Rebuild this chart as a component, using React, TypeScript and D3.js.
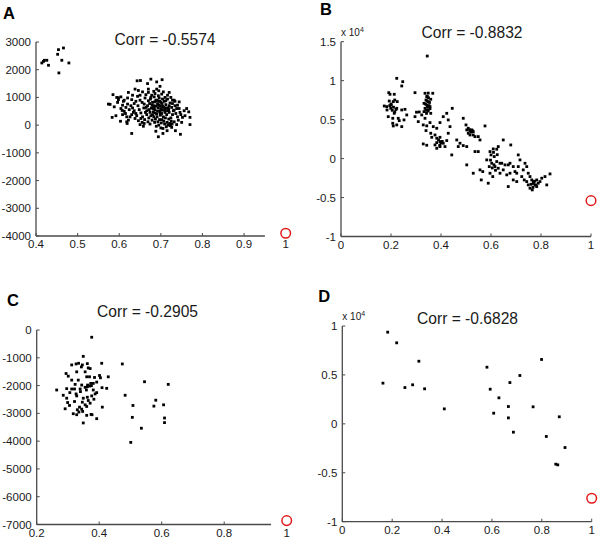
import React from "react";
import * as d3 from "d3";

// ---------- DATA ----------
const titles = ["Corr = -0.5574", "Corr = -0.8832", "Corr = -0.2905", "Corr = -0.6828"];
const panelLabels = ["A", "B", "C", "D"];

const ticksAX = [0.4, 0.5, 0.6, 0.7, 0.8, 0.9, 1];
const ticksAY = [-4000, -3000, -2000, -1000, 0, 1000, 2000, 3000];
const ticksBX = [0, 0.2, 0.4, 0.6, 0.8, 1];
const ticksBY = [-1, -0.5, 0, 0.5, 1, 1.5];
const ticksCX = [0.2, 0.4, 0.6, 0.8, 1];
const ticksCY = [-7000, -6000, -5000, -4000, -3000, -2000, -1000, 0];
const ticksDX = [0, 0.2, 0.4, 0.6, 0.8, 1];
const ticksDY = [-1, -0.5, 0, 0.5, 1];

// reference (red circle) points
const refA: [number, number] = [1, -3900];
const refB: [number, number] = [1, -0.54];
const refC: [number, number] = [1, -6860];
const refD: [number, number] = [1, -0.76];

const pointsA: [number, number][] = [
  [0.414, 2244], [0.42, 2340], [0.426, 2340], [0.43, 2160], [0.454, 2724], [0.466, 2784], [0.452, 2556],
  [0.462, 2340], [0.455, 1884], [0.479, 2244], [0.418, 2300],
  [0.643, 1600], [0.651, 1610], [0.668, 1500], [0.676, 1660], [0.703, 1640], [0.69, 1560], [0.698, 1400],
  [0.578, 750], [0.585, 1100], [0.594, 1000], [0.598, 990], [0.622, 1180], [0.638, 1300], [0.646, 1250],
  [0.67, 1300], [0.683, 1220], [0.695, 1240], [0.72, 1180], [0.724, 1000],
  [0.574, 760], [0.588, 660], [0.598, 920], [0.61, 860], [0.63, 920],
  [0.583, 280], [0.592, 340], [0.607, 530], [0.615, 420], [0.603, 140], [0.618, 120], [0.619, 60],
  [0.64, 420], [0.636, 520], [0.762, 600], [0.767, 480], [0.77, 280], [0.77, 20], [0.752, 280], [0.75, 100],
  [0.63, -300], [0.688, -220], [0.694, -420], [0.705, -300], [0.715, -200], [0.726, -80], [0.735, -200],
  [0.747, -330], [0.74, 300], [0.732, 540], [0.728, 780], [0.732, 900],
  [0.65, 900], [0.655, 820], [0.66, 760], [0.662, 980], [0.665, 640], [0.668, 700], [0.67, 880], [0.672, 560],
  [0.675, 940], [0.677, 620], [0.68, 820], [0.682, 480], [0.684, 700], [0.686, 560], [0.688, 900], [0.69, 400],
  [0.692, 760], [0.694, 620], [0.696, 980], [0.698, 520], [0.7, 820], [0.702, 420], [0.704, 680], [0.706, 300],
  [0.708, 860], [0.71, 560], [0.712, 740], [0.714, 380], [0.716, 940], [0.718, 620], [0.72, 460], [0.722, 800],
  [0.724, 260], [0.726, 640], [0.728, 380], [0.73, 520], [0.732, 120], [0.734, 700], [0.736, 420], [0.738, 600],
  [0.645, 700], [0.648, 560], [0.652, 440], [0.656, 300], [0.659, 620], [0.661, 200], [0.663, 460], [0.666, 380],
  [0.669, 120], [0.671, 260], [0.674, 40], [0.676, 340], [0.679, 180], [0.681, 600], [0.683, 300], [0.685, 100],
  [0.687, 220], [0.689, -40], [0.691, 300], [0.693, 120], [0.695, 0], [0.697, 200], [0.699, 360], [0.701, 80],
  [0.703, 200], [0.705, -120], [0.707, 140], [0.709, 40], [0.711, 260], [0.713, -60], [0.715, 100], [0.717, 0],
  [0.719, 220], [0.721, 60], [0.723, -20], [0.725, 140], [0.727, 40], [0.7, -100], [0.66, 60], [0.655, 100],
  [0.64, 860], [0.636, 780], [0.632, 620], [0.628, 700], [0.624, 560], [0.62, 760], [0.616, 640], [0.612, 500],
  [0.608, 720], [0.604, 600], [0.642, 340], [0.638, 240], [0.634, 460], [0.63, 380], [0.626, 300], [0.622, 180],
  [0.646, 160], [0.65, 20], [0.652, 240], [0.658, -40], [0.664, 1100], [0.67, 1180], [0.678, 1080], [0.686, 1140],
  [0.694, 1060], [0.702, 1120], [0.71, 1000], [0.716, 1080], [0.706, 1200], [0.69, 1300], [0.676, 1000],
  [0.684, 1020], [0.692, 860], [0.698, 700], [0.704, 940], [0.712, 880], [0.72, 700], [0.728, 900], [0.734, 860],
  [0.74, 720], [0.744, 600], [0.746, 460], [0.742, 180], [0.748, 380], [0.738, 20], [0.756, 520], [0.758, 340],
  [0.744, 840], [0.666, 520], [0.674, 460], [0.68, 380], [0.686, 440], [0.692, 500], [0.698, 440], [0.704, 540],
  [0.71, 460], [0.716, 520], [0.683, 640], [0.689, 680], [0.695, 720], [0.701, 600], [0.707, 640], [0.713, 620],
  [0.719, 560], [0.673, 780], [0.679, 720], [0.685, 840], [0.691, 900], [0.697, 860], [0.703, 780],
  [0.62, 980], [0.612, 900], [0.604, 1020], [0.596, 820], [0.65, 1080], [0.656, 1200], [0.644, 1040],
  [0.632, 1080], [0.618, 300], [0.608, 380],
];

const pointsB: [number, number][] = [
  [0.345, 1.316], [0.223, 1.03], [0.247, 0.987], [0.243, 0.932], [0.191, 0.846], [0.196, 0.825], [0.213, 0.825],
  [0.173, 0.675], [0.183, 0.667], [0.184, 0.624], [0.201, 0.688], [0.209, 0.731], [0.225, 0.731], [0.223, 0.645],
  [0.213, 0.581], [0.189, 0.538], [0.207, 0.517], [0.229, 0.517], [0.243, 0.624], [0.256, 0.632], [0.263, 0.56],
  [0.252, 0.496], [0.233, 0.487], [0.223, 0.432], [0.209, 0.419], [0.243, 0.41], [0.207, 0.453], [0.199, 0.645],
  [0.215, 0.752], [0.193, 0.739], [0.2, 0.7], [0.21, 0.66], [0.205, 0.62], [0.215, 0.6], [0.195, 0.68], [0.22, 0.63],
  [0.296, 0.846], [0.336, 0.838], [0.343, 0.795], [0.34, 0.752], [0.349, 0.731], [0.332, 0.709], [0.343, 0.688],
  [0.356, 0.667], [0.336, 0.645], [0.349, 0.624], [0.332, 0.603], [0.313, 0.598], [0.302, 0.595], [0.359, 0.761],
  [0.367, 0.838], [0.359, 0.581], [0.323, 0.56], [0.296, 0.538], [0.309, 0.474], [0.336, 0.517], [0.356, 0.462],
  [0.329, 0.432], [0.343, 0.42], [0.345, 0.8], [0.35, 0.78], [0.338, 0.7], [0.352, 0.68], [0.346, 0.66],
  [0.354, 0.72], [0.34, 0.62], [0.348, 0.61], [0.356, 0.64], [0.344, 0.74], [0.349, 0.84], [0.342, 0.58],
  [0.369, 0.41], [0.383, 0.389], [0.396, 0.462], [0.34, 0.359], [0.359, 0.325], [0.376, 0.303], [0.363, 0.273],
  [0.383, 0.261], [0.396, 0.273], [0.409, 0.538], [0.423, 0.581], [0.445, 0.645], [0.429, 0.496],
  [0.329, 0.188], [0.343, 0.171], [0.376, 0.175], [0.383, 0.205], [0.396, 0.218], [0.409, 0.197], [0.416, 0.154],
  [0.383, 0.132], [0.396, 0.154], [0.423, 0.231], [0.429, 0.325], [0.436, 0.41], [0.4, 0.2], [0.395, 0.17],
  [0.405, 0.22], [0.39, 0.24], [0.443, 0.047], [0.463, 0.239], [0.476, 0.197], [0.469, 0.154], [0.489, 0.167],
  [0.489, 0.517], [0.5, 0.432], [0.503, 0.368], [0.509, 0.389], [0.516, 0.359], [0.523, 0.368], [0.529, 0.346],
  [0.509, 0.325], [0.516, 0.303], [0.529, 0.303], [0.536, 0.282], [0.549, 0.282], [0.556, 0.239], [0.576, 0.419],
  [0.515, 0.37], [0.525, 0.36], [0.52, 0.34], [0.503, 0.154], [0.503, -0.081], [0.529, -0.188], [0.536, 0.09],
  [0.549, 0.09], [0.556, -0.145], [0.567, -0.167], [0.561, -0.274], [0.589, -0.316], [0.596, -0.188],
  [0.593, -0.103], [0.583, -0.017], [0.596, 0.09], [0.609, 0.124], [0.623, 0.12], [0.629, 0.154], [0.6, 0.047],
  [0.613, 0.026], [0.603, -0.06], [0.623, -0.038], [0.636, -0.06], [0.616, -0.103], [0.629, -0.124],
  [0.649, 0.239], [0.643, -0.06], [0.636, -0.188], [0.607, -0.231], [0.649, -0.145], [0.656, -0.081],
  [0.669, -0.081], [0.679, 0.175], [0.676, -0.06], [0.689, -0.103], [0.696, -0.167], [0.703, -0.188],
  [0.709, 0.047], [0.716, -0.017], [0.709, -0.103], [0.676, -0.188], [0.663, -0.209], [0.689, -0.274],
  [0.669, -0.359], [0.703, -0.295], [0.723, -0.231], [0.736, -0.06], [0.743, -0.103], [0.729, -0.145],
  [0.749, -0.188], [0.756, -0.231], [0.763, -0.274], [0.769, -0.295], [0.756, -0.38], [0.765, -0.402],
  [0.776, -0.338], [0.783, -0.274], [0.789, -0.316], [0.803, -0.252], [0.816, -0.231], [0.823, -0.338],
  [0.836, -0.197], [0.743, -0.295], [0.733, -0.274], [0.749, -0.338], [0.783, -0.359], [0.796, -0.295],
  [0.605, -0.12], [0.612, -0.08], [0.618, -0.15], [0.598, -0.02], [0.625, 0.05], [0.61, 0.08],
  [0.77, -0.32], [0.775, -0.29], [0.78, -0.34], [0.768, -0.37], [0.76, -0.33],
];

const pointsC: [number, number][] = [
  [0.376, -261], [0.349, -949], [0.408, -1198], [0.474, -1222], [0.545, -1862], [0.621, -1957], [0.483, -2349],
  [0.581, -2527], [0.508, -2716], [0.575, -2740], [0.606, -2693], [0.506, -3144], [0.609, -3167], [0.609, -3333],
  [0.535, -3535], [0.501, -4045], [0.429, -1685], [0.424, -2100], [0.409, -2076], [0.41, -2776], [0.392, -3191],
  [0.377, -3049], [0.349, -3345], [0.264, -2159], [0.285, -2349], [0.291, -2835], [0.317, -3013],
  [0.312, -1257], [0.326, -1222], [0.334, -1198], [0.346, -1257], [0.362, -1210], [0.343, -1329], [0.365, -1364],
  [0.294, -1566], [0.301, -1661], [0.328, -1506], [0.355, -1506], [0.371, -1388], [0.333, -1803], [0.312, -1803],
  [0.36, -1684], [0.369, -1684], [0.385, -1708], [0.401, -1637], [0.404, -1720], [0.323, -1957], [0.344, -1981],
  [0.363, -1981], [0.373, -1922], [0.381, -1922], [0.392, -1874], [0.296, -2111], [0.312, -2123], [0.321, -2123],
  [0.339, -2123], [0.355, -2064], [0.362, -2040], [0.369, -2017], [0.375, -2005], [0.306, -2254], [0.326, -2301],
  [0.34, -2218], [0.359, -2159], [0.381, -2159], [0.392, -2254], [0.296, -2455], [0.328, -2372], [0.349, -2455],
  [0.362, -2420], [0.376, -2372], [0.387, -2301], [0.299, -2610], [0.321, -2574], [0.346, -2598], [0.365, -2538],
  [0.383, -2491], [0.305, -2716], [0.337, -2776], [0.355, -2693], [0.371, -2633], [0.33, -2871], [0.344, -2847],
  [0.36, -2752], [0.335, -2954], [0.347, -2930], [0.328, -3049], [0.36, -3072], [0.374, -3037],
];

const pointsD: [number, number][] = [
  [0.182, 0.937], [0.218, 0.828], [0.307, 0.64], [0.163, 0.416], [0.251, 0.371], [0.282, 0.399], [0.33, 0.358],
  [0.409, 0.153], [0.58, 0.579], [0.593, 0.354], [0.628, 0.266], [0.672, 0.422], [0.712, 0.494], [0.799, 0.658],
  [0.666, 0.177], [0.607, 0.109], [0.666, 0.061], [0.686, -0.085], [0.765, 0.174], [0.87, 0.072], [0.818, -0.129],
  [0.893, -0.242], [0.856, -0.412], [0.864, -0.419],
];

// ---------- LAYOUT ----------
type PanelCfg = {
  points: [number, number][];
  refPt: [number, number];
  xDomain: [number, number];
  xRange: [number, number];
  yDomain: [number, number];
  yRange: [number, number];
  xTicks: number[];
  yTicks: number[];
  xAxisEnd: number;
  xTickMax: number;
  title: string;
  titleX: number;
  titleY: number;
  label: string;
  labelX: number;
  labelY: number;
  exponent: boolean;
};

const panels: PanelCfg[] = [
  {
    points: pointsA, refPt: refA, xDomain: [0.4, 1], xRange: [36, 285.7], yDomain: [-4000, 3000], yRange: [236, 42],
    xTicks: ticksAX, yTicks: ticksAY, xAxisEnd: 0.95, xTickMax: 0.9, title: titles[0], titleX: 165, titleY: 45,
    label: panelLabels[0], labelX: 3, labelY: 19, exponent: false,
  },
  {
    points: pointsB, refPt: refB, xDomain: [0, 1], xRange: [341, 591], yDomain: [-1, 1.5], yRange: [236.5, 41.7],
    xTicks: ticksBX, yTicks: ticksBY, xAxisEnd: 1, xTickMax: 1, title: titles[1], titleX: 472, titleY: 37.5,
    label: panelLabels[1], labelX: 320, labelY: 15, exponent: true,
  },
  {
    points: pointsC, refPt: refC, xDomain: [0.2, 1], xRange: [36.7, 286.7], yDomain: [-7000, 0], yRange: [524.5, 330],
    xTicks: ticksCX, yTicks: ticksCY, xAxisEnd: 0.95, xTickMax: 0.8, title: titles[2], titleX: 147.5, titleY: 317.3,
    label: panelLabels[2], labelX: 7, labelY: 306, exponent: false,
  },
  {
    points: pointsD, refPt: refD, xDomain: [0, 1], xRange: [342.3, 591.7], yDomain: [-1, 1], yRange: [521.7, 326],
    xTicks: ticksDX, yTicks: ticksDY, xAxisEnd: 1, xTickMax: 1, title: titles[3], titleX: 467.5, titleY: 324.3,
    label: panelLabels[3], labelX: 318.3, labelY: 302.3, exponent: true,
  },
];

const FONT = "'Liberation Sans', Arial, sans-serif";
const AXIS = "#4a4a4a";
const TXT = "#1a1a1a";

function fmt(v: number) {
  return String(Math.round(v * 1000) / 1000);
}

function Panel({ cfg }: { cfg: PanelCfg }) {
  const x = d3.scaleLinear().domain(cfg.xDomain).range(cfg.xRange);
  const y = d3.scaleLinear().domain(cfg.yDomain).range(cfg.yRange);
  const x0 = x(cfg.xDomain[0]);
  const y0 = y(cfg.yDomain[0]);
  const yTop = y(cfg.yDomain[1]);
  return (
    <g>
      <text x={cfg.labelX} y={cfg.labelY} fontFamily={FONT} fontWeight="bold" fontSize={16.5} fill="#000">
        {cfg.label}
      </text>
      <text x={cfg.titleX} y={cfg.titleY} textAnchor="middle" fontFamily={FONT} fontSize={15.6} fill={TXT}>
        {cfg.title}
      </text>
      {cfg.exponent && (
        <text x={x0} y={yTop - 6} fontFamily={FONT} fontSize={10} fill={TXT}>
          x 10<tspan fontSize={7} dy={-4}>4</tspan>
        </text>
      )}
      {/* axes */}
      <line x1={x0} x2={x(cfg.xAxisEnd)} y1={y0} y2={y0} stroke={AXIS} strokeWidth={1.3} />
      <line x1={x0} x2={x0} y1={y0} y2={yTop} stroke={AXIS} strokeWidth={1.3} />
      {cfg.xTicks.map((t) => (
        <g key={"xt" + t}>
          {t <= cfg.xTickMax + 1e-9 && (
            <line x1={x(t)} x2={x(t)} y1={y0} y2={y0 - 3} stroke={AXIS} strokeWidth={1} />
          )}
          <text x={x(t)} y={y0 + 12} textAnchor="middle" fontFamily={FONT} fontSize={11.5} fill={TXT}>
            {fmt(t)}
          </text>
        </g>
      ))}
      {cfg.yTicks.map((t) => (
        <g key={"yt" + t}>
          <line x1={x0} x2={x0 + 3} y1={y(t)} y2={y(t)} stroke={AXIS} strokeWidth={1} />
          <text x={x0 - 5} y={y(t) + 4} textAnchor="end" fontFamily={FONT} fontSize={11.5} fill={TXT}>
            {fmt(t)}
          </text>
        </g>
      ))}
      {cfg.points.map((p, i) => (
        <rect key={i} x={x(p[0]) - 1.4} y={y(p[1]) - 1.4} width={2.8} height={2.8} fill="#000" />
      ))}
      <circle cx={x(cfg.refPt[0])} cy={y(cfg.refPt[1])} r={4.8} fill="none" stroke="#e21a1a" strokeWidth={1.5} />
    </g>
  );
}

export default function App() {
  return (
    <svg
      width={600}
      height={540}
      style={{ position: "absolute", left: 0, top: 0, background: "#fff" }}
    >
      <rect width={600} height={540} fill="#fff" />
      {panels.map((p, i) => (
        <Panel key={i} cfg={p} />
      ))}
    </svg>
  );
}
